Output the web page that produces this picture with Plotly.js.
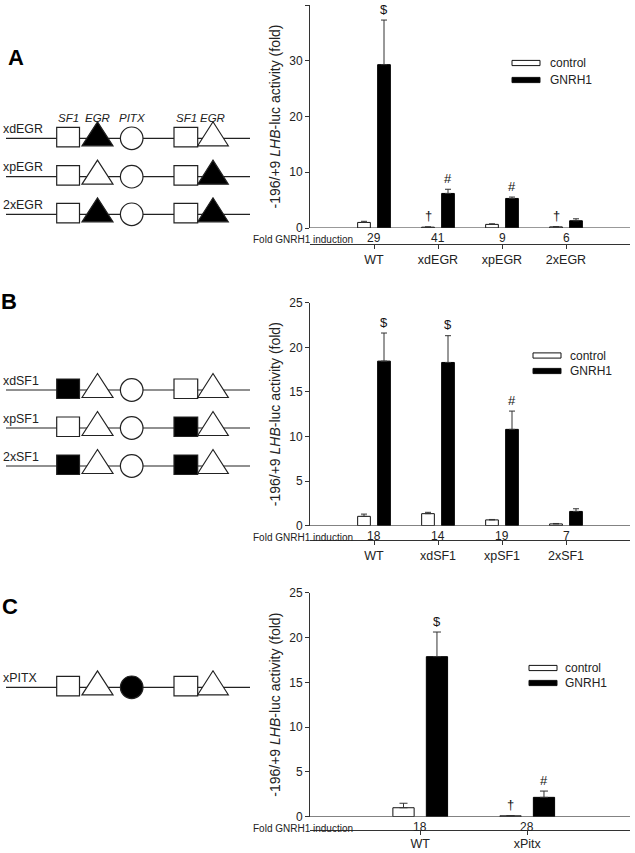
<!DOCTYPE html>
<html><head><meta charset="utf-8">
<script src="https://cdn.plot.ly/plotly-3.0.1.min.js"></script>
<style>html,body{margin:0;padding:0;background:#fff}#chart{width:635px;height:853px}</style>
</head><body><div id="chart"></div>
<script>
// ---------- Panel A data ----------
const catsA = ['WT', 'xdEGR', 'xpEGR', '2xEGR'];
const ctrlA = [1.0, 0.15, 0.65, 0.2];
const ctrlErrA = [0.2, 0.05, 0.1, 0.05];
const gnrhA = [29.3, 6.2, 5.3, 1.3];
const gnrhErrA = [8.0, 0.75, 0.25, 0.35];
const foldA = ['29', '41', '9', '6'];
const sigCtrlA = ['', '†', '', '†'];
const sigGnrhA = ['$', '#', '#', ''];

// ---------- Panel B data ----------
const catsB = ['WT', 'xdSF1', 'xpSF1', '2xSF1'];
const ctrlB = [1.05, 1.35, 0.65, 0.2];
const ctrlErrB = [0.25, 0.15, 0.05, 0.05];
const gnrhB = [18.45, 18.3, 10.8, 1.6];
const gnrhErrB = [3.15, 3.0, 2.05, 0.3];
const foldB = ['18', '14', '19', '7'];
const sigCtrlB = ['', '', '', ''];
const sigGnrhB = ['$', '$', '#', ''];

// ---------- Panel C data ----------
const catsC = ['WT', 'xPitx'];
const ctrlC = [1.0, 0.1];
const ctrlErrC = [0.5, 0.03];
const gnrhC = [17.86, 2.16];
const gnrhErrC = [2.75, 0.7];
const foldC = ['18', '28'];
const sigCtrlC = ['', '†'];
const sigGnrhC = ['$', '#'];

// ---------- Schematic constructs ----------
const elementLabels = ['SF1', 'EGR', 'PITX', 'SF1', 'EGR'];
const constructsA = ['xdEGR', 'xpEGR', '2xEGR'];
const filledA = [[0,1,0,0,0],[0,0,0,0,1],[0,1,0,0,1]];
const constructsB = ['xdSF1', 'xpSF1', '2xSF1'];
const filledB = [[1,0,0,0,0],[0,0,0,1,0],[1,0,0,1,0]];
const constructsC = ['xPITX'];
const filledC = [[0,0,1,0,0]];

const seriesNames = ['control', 'GNRH1'];
const yTitle = '-196/+9 <i>LHB</i>-luc activity (fold)';
const foldLabel = 'Fold GNRH1 induction';

// ---------- helpers ----------
const W = 635, H = 853;
const px = x => x / W;
const py = y => 1 - y / H;
const FONT = 'Arial, "Liberation Sans", sans-serif';
const INK = '#222';
const BARGAP = 0.375, GROUPGAP = 0.365;

const panels = [
  {n:'', cats:catsA, ctrl:ctrlA, ctrlErr:ctrlErrA, gnrh:gnrhA, gnrhErr:gnrhErrA, fold:foldA, sigC:sigCtrlA, sigG:sigGnrhA,
   letter:'A', letterPos:[16,57.5], top:5, bot:228, lineY:243.5, foldY:238, xr:[-1,4], yr:[0,40], dtick:10, capW:3, standoff:0,
   leg:{x:512, y:[63,80], tx:548},
   constructs:constructsA, filled:filledA, rowY:[138.3,176.7,214.3], showElemLabels:true},
  {n:'2', cats:catsB, ctrl:ctrlB, ctrlErr:ctrlErrB, gnrh:gnrhB, gnrhErr:gnrhErrB, fold:foldB, sigC:sigCtrlB, sigG:sigGnrhB,
   letter:'B', letterPos:[8.5,301.7], top:302.7, bot:525.7, lineY:540, foldY:536, xr:[-1,4], yr:[0,25], dtick:5, capW:3, standoff:0,
   leg:{x:533, y:[355.5,371], tx:568},
   constructs:constructsB, filled:filledB, rowY:[390,428,466], showElemLabels:false},
  {n:'3', cats:catsC, ctrl:ctrlC, ctrlErr:ctrlErrC, gnrh:gnrhC, gnrhErr:gnrhErrC, fold:foldC, sigC:sigCtrlC, sigG:sigGnrhC,
   letter:'C', letterPos:[9.5,606], top:592.7, bot:816.7, lineY:830.2, foldY:826.5, xr:[-1.03,1.96], yr:[0,25], dtick:5, capW:4, standoff:-2,
   leg:{x:529, y:[668,683], tx:563},
   constructs:constructsC, filled:filledC, rowY:[687.3], showElemLabels:false}
];

const X0 = 310, X1 = 630;
const data = [];
const shapes = [];
const annotations = [];
const layout = {
  width: W, height: H, margin: {l:0, r:0, t:0, b:0},
  paper_bgcolor: '#fff', plot_bgcolor: 'rgba(0,0,0,0)',
  barmode: 'group', bargap: BARGAP, bargroupgap: GROUPGAP,
  showlegend: false, font: {family: FONT, color: INK},
  shapes: shapes, annotations: annotations
};

function lineShape(x0, y0, x1, y1) {
  return {type:'line', xref:'paper', yref:'paper', x0:px(x0), y0:py(y0), x1:px(x1), y1:py(y1),
          line:{color:INK, width:1.2}};
}

panels.forEach(p => {
  const xa = 'x' + p.n, ya = 'y' + p.n;
  const xKey = 'xaxis' + p.n, yKey = 'yaxis' + p.n;
  const zeros = p.cats.map(() => 0);
  data.push({type:'bar', name:seriesNames[0], x:p.cats, y:p.ctrl, xaxis:xa, yaxis:ya,
    marker:{color:'#fff', line:{color:'#111', width:1}},
    error_y:{type:'data', array:p.ctrlErr, arrayminus:zeros, symmetric:false, color:'#333', thickness:1, width:p.capW},
    hoverinfo:'skip'});
  data.push({type:'bar', name:seriesNames[1], x:p.cats, y:p.gnrh, xaxis:xa, yaxis:ya,
    marker:{color:'#000', line:{color:'#000', width:1}},
    error_y:{type:'data', array:p.gnrhErr, arrayminus:zeros, symmetric:false, color:'#333', thickness:1, width:p.capW},
    hoverinfo:'skip'});

  layout[xKey] = {
    type:'category', domain:[px(X0), px(X1)], range:p.xr, anchor:'free', position:py(p.lineY),
    showline:true, linecolor:'#333', linewidth:1, ticks:'outside', ticklen:4, tickcolor:'#333',
    tickfont:{size:12.5, family:FONT, color:INK}, ticklabelstandoff:p.standoff, showgrid:false, zeroline:false, fixedrange:true
  };
  layout[yKey] = {
    domain:[py(p.bot), py(p.top)], range:p.yr, dtick:p.dtick, anchor:xa,
    showline:true, linecolor:'#333', linewidth:1, ticks:'outside', ticklen:4, tickcolor:'#333',
    tickfont:{size:12, family:FONT, color:INK}, showgrid:false, zeroline:false, fixedrange:true,
    title:{text:yTitle, font:{size:14, family:FONT, color:INK}, standoff:5}
  };

  // baseline at y = 0
  shapes.push({type:'line', xref:xa + ' domain', yref:ya, x0:0, x1:1, y0:0, y1:0,
               line:{color:'#333', width:1}});

  // significance marks above bars
  const spacing = (X1 - X0) / (p.xr[1] - p.xr[0]);
  const off = spacing * (1 - BARGAP) / 4;
  p.cats.forEach((c, i) => {
    if (p.sigC[i]) annotations.push({xref:xa, yref:ya, x:c, y:p.ctrl[i] + p.ctrlErr[i], text:p.sigC[i],
      showarrow:false, xshift:-off, yshift:11, yanchor:'middle', font:{size:13, family:FONT, color:'#111'}});
    if (p.sigG[i]) annotations.push({xref:xa, yref:ya, x:c, y:p.gnrh[i] + p.gnrhErr[i], text:p.sigG[i],
      showarrow:false, xshift:off, yshift:11, yanchor:'middle', font:{size:13, family:FONT, color:'#111'}});
    // fold induction values
    annotations.push({xref:xa, yref:'paper', x:c, y:py(p.foldY), text:p.fold[i], showarrow:false,
      yanchor:'middle', font:{size:12, family:FONT, color:INK}});
  });
  annotations.push({xref:'paper', yref:'paper', x:px(251), y:py(p.foldY + 1.5), xanchor:'left', yanchor:'middle',
    text:foldLabel, showarrow:false, font:{size:10, family:FONT, color:INK}});

  // legend
  const fills = ['#fff', '#000'];
  seriesNames.forEach((s, k) => {
    const cy = p.leg.y[k];
    shapes.push({type:'rect', xref:'paper', yref:'paper', x0:px(p.leg.x), x1:px(p.leg.x + 28),
      y0:py(cy - 2.6), y1:py(cy + 2.6), fillcolor:fills[k], line:{color:'#111', width:1}});
    annotations.push({xref:'paper', yref:'paper', x:px(p.leg.tx), y:py(cy), xanchor:'left', yanchor:'middle',
      text:s, showarrow:false, font:{size:12, family:FONT, color:INK}});
  });

  // panel letter
  annotations.push({xref:'paper', yref:'paper', x:px(p.letterPos[0]), y:py(p.letterPos[1]),
    xanchor:'center', yanchor:'middle', text:'<b>' + p.letter + '</b>', showarrow:false,
    font:{size:22, family:FONT, color:'#000'}});

  // schematic constructs
  p.constructs.forEach((name, r) => {
    const ly = p.rowY[r];
    const f = p.filled[r];
    shapes.push(lineShape(6, ly, 250, ly));
    const col = k => f[k] ? '#000' : '#fff';
    const ln = {color:INK, width:1.2};
    // SF1 squares
    [[56.7, 79.5, 0], [174, 197.7, 3]].forEach(([a, b, k]) => shapes.push({type:'rect', xref:'paper', yref:'paper',
      x0:px(a), x1:px(b), y0:py(ly + 8.5), y1:py(ly - 11), fillcolor:col(k), line:ln}));
    // EGR triangles
    [[82, 113, 1], [197.7, 228.3, 4]].forEach(([a, b, k]) => {
      const m = (a + b) / 2;
      shapes.push({type:'path', xref:'paper', yref:'paper',
        path:`M${px(a)},${py(ly + 7.5)} L${px(m)},${py(ly - 16.5)} L${px(b)},${py(ly + 7.5)} Z`,
        fillcolor:col(k), line:ln});
    });
    // PITX circle
    shapes.push({type:'circle', xref:'paper', yref:'paper', x0:px(120.4), x1:px(143), y0:py(ly + 11.3), y1:py(ly - 11.3),
      fillcolor:col(2), line:ln});
    annotations.push({xref:'paper', yref:'paper', x:px(1), y:py(ly - 9.5), xanchor:'left', yanchor:'middle',
      text:name, showarrow:false, font:{size:12.4, family:FONT, color:INK}});
    if (p.showElemLabels && r === 0) {
      const cx = [68, 97, 132, 186, 212];
      elementLabels.forEach((t, k) => annotations.push({xref:'paper', yref:'paper', x:px(cx[k]), y:py(ly - 20),
        xanchor:'center', yanchor:'middle', text:'<i>' + t + '</i>', showarrow:false,
        font:{size:11.5, family:FONT, color:INK}}));
    }
  });
});

Plotly.newPlot('chart', data, layout, {staticPlot:true, displayModeBar:false});
</script>
</body></html>
